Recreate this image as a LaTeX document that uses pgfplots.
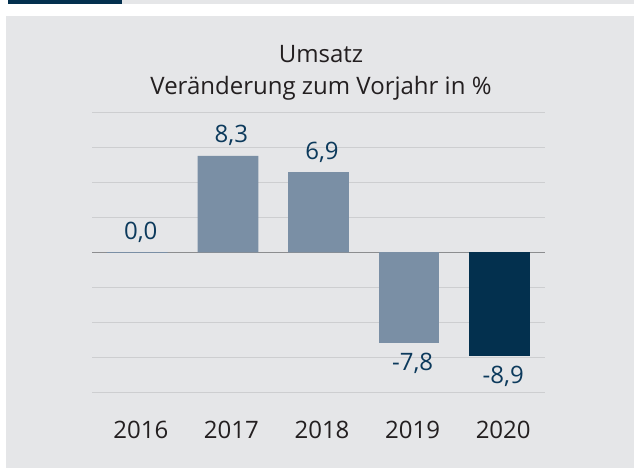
\documentclass[border=0pt]{standalone}
\usepackage{fontspec}
\setmainfont{Open Sans}
\usepackage{pgfplots}
\pgfplotsset{compat=1.18}
\definecolor{bg}{RGB}{229,230,232}
\definecolor{lightbar}{RGB}{122,143,165}
\definecolor{darkbar}{RGB}{3,48,78}
\definecolor{labelc}{RGB}{12,58,92}
\definecolor{textc}{RGB}{35,31,32}
\definecolor{gridc}{RGB}{205,206,208}
\definecolor{zeroc}{RGB}{140,141,143}
\newcommand{\bigf}{\fontsize{24}{28}\selectfont}
\begin{document}
\begin{tikzpicture}[x=1pt,y=1pt]
\path[use as bounding box] (0,0) rectangle (634,468);
\fill[bg] (6,0) rectangle (634,452);
\fill[darkbar] (8,464) rectangle (122,468);
\fill[bg] (122,464) rectangle (634,468);
\node[anchor=base, text=textc, font=\bigf, inner sep=0pt] at (321,405.7) {Umsatz};
\node[anchor=base, text=textc, font=\bigf, inner sep=0pt] at (321,373) {Veränderung zum Vorjahr in \%};
\begin{axis}[
  at={(92pt,75.7pt)}, anchor=south west,
  scale only axis, width=453pt, height=279.6pt,
  xmin=-0.5, xmax=4.5, ymin=-12, ymax=12,
  ytick={-12,-9,...,12}, yticklabels={},
  ymajorgrids, grid style={gridc, line width=1pt},
  extra y ticks={0}, extra y tick labels={},
  extra y tick style={grid style={zeroc, line width=1pt}},
  xtick={0,1,2,3,4}, xticklabels={2016,2017,2018,2019,2020},
  major tick length=0pt, tick style={draw=none},
  axis line style={draw=none},
  ybar, bar width=0.67, bar shift=0pt,
  xticklabel style={anchor=base, yshift=-46pt, xshift=3.5pt, text=textc, font=\bigf, inner sep=0pt},
  point meta=explicit symbolic,
  clip=false,
]
\addplot[fill=lightbar, draw=lightbar, line width=1pt,
  nodes near coords,
  every node near coord/.append style={anchor=base, yshift=13pt, xshift=3.5pt, text=labelc, font=\bigf, inner sep=0pt}]
  coordinates {(0,0) [{0,0}]};
\addplot[fill=lightbar, draw=none,
  nodes near coords,
  every node near coord/.append style={anchor=base, yshift=13pt, xshift=3.5pt, text=labelc, font=\bigf, inner sep=0pt}]
  coordinates {(1,8.3) [{8,3}] (2,6.9) [{6,9}]};
\addplot[fill=lightbar, draw=none,
  nodes near coords,
  every node near coord/.append style={anchor=base, yshift=-27.5pt, xshift=3.5pt, text=labelc, font=\bigf, inner sep=0pt}]
  coordinates {(3,-7.8) [{-7,8}]};
\addplot[fill=darkbar, draw=none,
  nodes near coords,
  every node near coord/.append style={anchor=base, yshift=-27.5pt, xshift=3.5pt, text=labelc, font=\bigf, inner sep=0pt}]
  coordinates {(4,-8.9) [{-8,9}]};
\end{axis}
\end{tikzpicture}
\end{document}
